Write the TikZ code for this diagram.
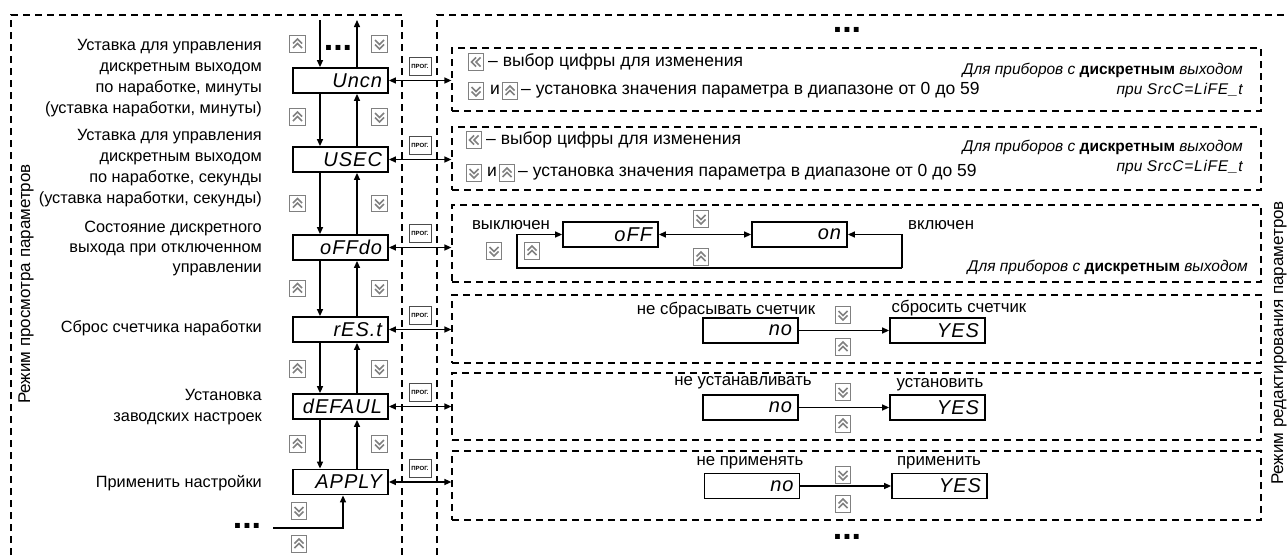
\documentclass[tikz,border=0pt]{standalone}
\usepackage{fontspec}
\setmainfont{Liberation Sans}
\newfontfamily\segfont[LetterSpace=5]{Liberation Sans}
\usetikzlibrary{arrows.meta}
\tikzset{
  dline/.style={draw, dash pattern=on 7pt off 5pt, line width=1.2pt},
  dbox/.style={dline, inner sep=0pt},
  disp/.style={draw, line width=1.8pt, minimum width=95pt, minimum height=25pt, inner sep=0pt,
    text width=83pt, align=right, font=\segfont\itshape\fontsize{20}{20}\selectfont},
  btn/.style={draw=black!50, line width=0.8pt, minimum width=15.5pt, minimum height=16.5pt, inner sep=0pt, fill=white},
  chev/.style={line width=1.6pt},
  btnU/.style={btn, path picture={
    \draw[chev] (path picture bounding box.center) ++(-4.5pt,0.5pt) -- ++(4.5pt,4.5pt) -- ++(4.5pt,-4.5pt);
    \draw[chev] (path picture bounding box.center) ++(-4.5pt,-4pt) -- ++(4.5pt,4.5pt) -- ++(4.5pt,-4.5pt);}},
  btnD/.style={btn, path picture={
    \draw[chev] (path picture bounding box.center) ++(-4.5pt,4pt) -- ++(4.5pt,-4.5pt) -- ++(4.5pt,4.5pt);
    \draw[chev] (path picture bounding box.center) ++(-4.5pt,-0.5pt) -- ++(4.5pt,-4.5pt) -- ++(4.5pt,4.5pt);}},
  btnL/.style={btn, path picture={
    \draw[chev] (path picture bounding box.center) ++(0pt,4.5pt) -- ++(-4.5pt,-4.5pt) -- ++(4.5pt,-4.5pt);
    \draw[chev] (path picture bounding box.center) ++(4.5pt,4.5pt) -- ++(-4.5pt,-4.5pt) -- ++(4.5pt,-4.5pt);}},
  prog/.style={draw=black!70, line width=0.7pt, minimum width=22pt, minimum height=18pt, inner sep=0pt,
    font=\fontsize{6}{6}\selectfont\bfseries},
  conn/.style={line width=1.4pt},
  arr/.style={conn, -{Triangle[length=7pt,width=6pt]}},
  darr/.style={conn, {Triangle[length=7pt,width=6pt]}-{Triangle[length=7pt,width=6pt]}},
  lbl/.style={inner sep=0pt, font=\fontsize{16.8}{20}\selectfont},
  hlbl/.style={inner sep=0pt, font=\fontsize{17.5}{20}\selectfont},
  llbl/.style={inner sep=0pt, anchor=east, align=right, font=\fontsize{16.3}{21}\selectfont},
  vlbl/.style={inner sep=0pt, rotate=90, font=\fontsize{17}{20}\selectfont},
  dotsn/.style={inner sep=0pt, font=\fontsize{34}{34}\selectfont\bfseries},
  note/.style={inner sep=0pt, font=\fontsize{15.5}{18}\selectfont\itshape}
}
\begin{document}
\begin{tikzpicture}[x=1pt, y=-1pt]
\useasboundingbox (0,0) rectangle (1287,555);
% outer dashed frames
\draw[dline] (11,555) -- (11,15) -- (402,15) -- (402,555);
\draw[dline] (437,555) -- (437,15) -- (1287,15);
% vertical titles
\node[vlbl] (vl) at (26,284) {Режим просмотра параметров};
\node[vlbl] (vr) at (1279,343) {Режим редактирования параметров};

% left labels
\node[llbl] (L1) at (262,78.5) {Уставка для управления\\дискретным выходом\\по наработке, минуты\\(уставка наработки, минуты)};
\node[llbl] (L2) at (262,168) {Уставка для управления\\дискретным выходом\\по наработке, секунды\\(уставка наработки, секунды)};
\node[llbl, font=\fontsize{16.3}{20}\selectfont] (L3) at (262,248) {Состояние дискретного\\выхода при отключенном\\управлении};
\node[llbl] (L4) at (262,328) {Сброс счетчика наработки};
\node[llbl] (L5) at (262,407.5) {Установка\\заводских настроек};
\node[llbl] (L6) at (262,483) {Применить настройки};

% column of displays
\node[disp] (c1) at (340.5,80.5) {Uncn};
\node[disp] (c2) at (340.5,159.5) {USEC};
\node[disp] (c3) at (340.5,247.5) {oFFdo};
\node[disp] (c4) at (340.5,329.5) {rES.t};
\node[disp] (c5) at (340.5,406.5) {dEFAUL};
\node[disp] (c6) at (340.5,482) {APPLY};

% top entry
\coordinate (td) at (320,20);
\coordinate (tu) at (357,20);
\draw[arr] (td) -- (td |- c1.north);
\draw[arr] (tu |- c1.north) -- (tu);
\node[dotsn] (dt) at (338,48) {...};
\node[btnU] (bu0) at (297.5,44) {};
\node[btnD] (bd0) at (379.5,44) {};

% vertical arrows between displays
\foreach \a/\b/\m in {c1/c2/117, c2/c3/203.5, c3/c4/288.5, c4/c5/369, c5/c6/444}{
  \draw[arr] ([xshift=-20.5pt]\a.south) -- ([xshift=-20.5pt]\b.north);
  \draw[arr] ([xshift=16.5pt]\b.north) -- ([xshift=16.5pt]\a.south);
  \node[btnU] (bu\a) at (297.5,\m) {};
  \node[btnD] (bd\a) at (379.5,\m) {};
}

% bottom entry
\node[dotsn] (db) at (247,526) {...};
\coordinate (bl) at (273,528);
\coordinate (bc) at (343,528);
\draw[arr] (bl) -- (bc) -- (bc |- c6.south);
\node[btnD] (bd6) at (299,511) {};
\node[btnU] (bu6) at (299,544) {};

% inner dashed boxes
\node[dbox, minimum width=809pt, minimum height=63pt] (ib1) at (856.5,79.5) {};
\node[dbox, minimum width=809pt, minimum height=63pt] (ib2) at (856.5,158.5) {};
\node[dbox, minimum width=809pt, minimum height=77pt] (ib3) at (856.5,243.5) {};
\node[dbox, minimum width=809pt, minimum height=68pt] (ib4) at (856.5,329) {};
\node[dbox, minimum width=809pt, minimum height=67pt] (ib5) at (856.5,406.5) {};
\node[dbox, minimum width=809pt, minimum height=69pt] (ib6) at (856.5,485.5) {};

% prog buttons and links
\foreach \i in {1,...,6}{
  \draw[darr] (c\i.east) -- (c\i.east -| ib\i.west);
}
\node[prog] (p1) at (420,66) {ПРОГ.};
\node[prog] (p2) at (420,145.5) {ПРОГ.};
\node[prog] (p3) at (420,233.5) {ПРОГ.};
\node[prog] (p4) at (420,315.5) {ПРОГ.};
\node[prog] (p5) at (420,392.5) {ПРОГ.};
\node[prog] (p6) at (420,468) {ПРОГ.};

% dots in right frame
\node[dotsn] (dr1) at (847,30) {...};
\node[dotsn] (dr2) at (847,537) {...};

% box 1
\node[btnL] (l1) at (476,62) {};
\node[hlbl, anchor=west] (t1a) at (488,62) {– выбор цифры для изменения};
\node[btnD] (d1) at (476,91) {};
\node[hlbl] (i1) at (495,90) {и};
\node[btnU] (u1) at (510,91) {};
\node[hlbl, anchor=west] (t1b) at (521,90) {– установка значения параметра в диапазоне от 0 до 59};
\node[note, anchor=east] (n1a) at (1243,70) {Для приборов с {\upshape\bfseries дискретным} выходом};
\node[note, anchor=east] (n1b) at (1243,90) {при {\segfont SrcC=LiFE\_t}};

% box 2
\node[btnL] (l2) at (474,140) {};
\node[hlbl, anchor=west] (t2a) at (486,140) {– выбор цифры для изменения};
\node[btnD] (d2) at (474,173) {};
\node[hlbl] (i2) at (492,172) {и};
\node[btnU] (u2) at (507,173) {};
\node[hlbl, anchor=west] (t2b) at (518,172) {– установка значения параметра в диапазоне от 0 до 59};
\node[note, anchor=east] (n2a) at (1243,147) {Для приборов с {\upshape\bfseries дискретным} выходом};
\node[note, anchor=east] (n2b) at (1243,167) {при {\segfont SrcC=LiFE\_t}};

% box 3
\node[lbl] (k3a) at (511,225) {выключен};
\node[lbl, anchor=west] (k3b) at (908,225) {включен};
\node[disp] (off) at (610.5,234.5) {oFF};
\node[disp] (on) at (799.5,234.5) {on};
\draw[darr] (off) -- (on);
\node[btnD] (d3m) at (701,219) {};
\node[btnU] (u3m) at (701,257) {};
\coordinate (la) at (902,268);
\coordinate (lb) at (517,268);
\draw[arr] (la) |- (on.east);
\draw[arr] (la) -- (lb) |- (off.west);
\node[btnD] (d3l) at (494,251) {};
\node[btnU] (u3l) at (532,251) {};
\node[note, anchor=east] (n3) at (1248,267) {Для приборов с {\upshape\bfseries дискретным} выходом};

% box 4
\node[lbl] (k4a) at (726,310) {не сбрасывать счетчик};
\node[lbl] (k4b) at (959,308) {сбросить счетчик};
\node[disp] (no4) at (750.5,330.5) {no};
\node[disp] (yes4) at (937.5,330.5) {YES};
\draw[arr] (no4) -- (yes4);
\node[btnD] (d4) at (843,315) {};
\node[btnU] (u4) at (843,347) {};

% box 5
\node[lbl] (k5a) at (743,383) {не устанавливать};
\node[lbl] (k5b) at (940,385) {установить};
\node[disp] (no5) at (750.5,407.5) {no};
\node[disp] (yes5) at (937.5,407.5) {YES};
\draw[arr] (no5) -- (yes5);
\node[btnD] (d5) at (843,392) {};
\node[btnU] (u5) at (843,424) {};

% box 6
\node[lbl] (k6a) at (750,463) {не применять};
\node[lbl] (k6b) at (939,463) {применить};
\node[disp] (no6) at (752,486) {no};
\node[disp] (yes6) at (939.5,486) {YES};
\draw[arr] (no6) -- (yes6);
\node[btnD] (d6) at (843,475) {};
\node[btnU] (u6) at (843,504) {};
\end{tikzpicture}
\end{document}
